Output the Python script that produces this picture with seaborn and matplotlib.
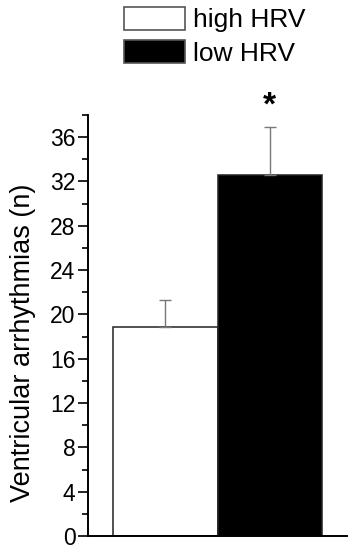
import matplotlib
matplotlib.use("Agg")
import matplotlib.pyplot as plt
import seaborn as sns
import pandas as pd
import numpy as np
from matplotlib.patches import Patch
from matplotlib.ticker import MultipleLocator

groups = ["high HRV", "low HRV"]
means = [18.9, 32.6]
sems = [2.4, 4.3]
colors = ["white", "black"]

sns.set_style("ticks")
plt.rcParams["font.family"] = ["Liberation Sans", "DejaVu Sans"]
plt.rcParams["text.color"] = "black"
plt.rcParams["axes.labelcolor"] = "black"
plt.rcParams["xtick.color"] = "black"
plt.rcParams["ytick.color"] = "black"

df = pd.DataFrame({"group": groups, "value": means})

fig = plt.figure(figsize=(3.53, 5.5), dpi=100)
ax = fig.add_axes([0.2493, 0.02545, 0.7337, 0.7655])

sns.barplot(data=df, x="group", y="value", hue="group", order=groups,
            hue_order=groups, palette=dict(zip(groups, colors)),
            width=1.0, errorbar=None, edgecolor="#222222", linewidth=1.1,
            legend=False, ax=ax)

xs = np.arange(len(groups))
ax.errorbar(xs, means, yerr=[np.zeros(len(sems)), sems], fmt="none",
            ecolor="#777777", elinewidth=1.0, capsize=4, capthick=1.0, zorder=1)

# significance marker above the low-HRV bar
ax.annotate("*", xy=(1, means[1] + sems[1]), xytext=(0, 4),
            textcoords="offset points", ha="center", va="bottom",
            fontsize=24, fontweight="bold", annotation_clip=False)

ax.set_xlim(-0.745, 1.745)
ax.set_ylim(0, 38)
ax.yaxis.set_major_locator(MultipleLocator(4))
ax.yaxis.set_minor_locator(MultipleLocator(2))
ax.set_yticks(np.arange(0, 37, 4))
ax.set_xticks([])
ax.set_xlabel("")
ax.set_ylabel("Ventricular arrhythmias (n)", fontsize=19.5)
ax.yaxis.set_label_coords(-0.20, 0.46)
ax.tick_params(axis="y", which="major", length=7, width=1.2, labelsize=16.5,
               direction="out", color="black", labelcolor="black", pad=2)
ax.tick_params(axis="y", which="minor", length=4, width=1.2, direction="out",
               color="black")
for s in ["top", "right"]:
    ax.spines[s].set_visible(False)
for s in ["left", "bottom"]:
    ax.spines[s].set_linewidth(1.4)
    ax.spines[s].set_color("black")

handles = [Patch(facecolor=c, edgecolor="#555555", linewidth=1.2) for c in colors]
fig.legend(handles, groups, loc="upper left",
           bbox_to_anchor=(124 / 353, 1 - 7 / 550), frameon=False,
           fontsize=19, handlelength=2.3, handleheight=0.95,
           handletextpad=0.3, labelspacing=0.3, borderpad=0,
           borderaxespad=0)

fig.savefig("out.png", dpi=100)
